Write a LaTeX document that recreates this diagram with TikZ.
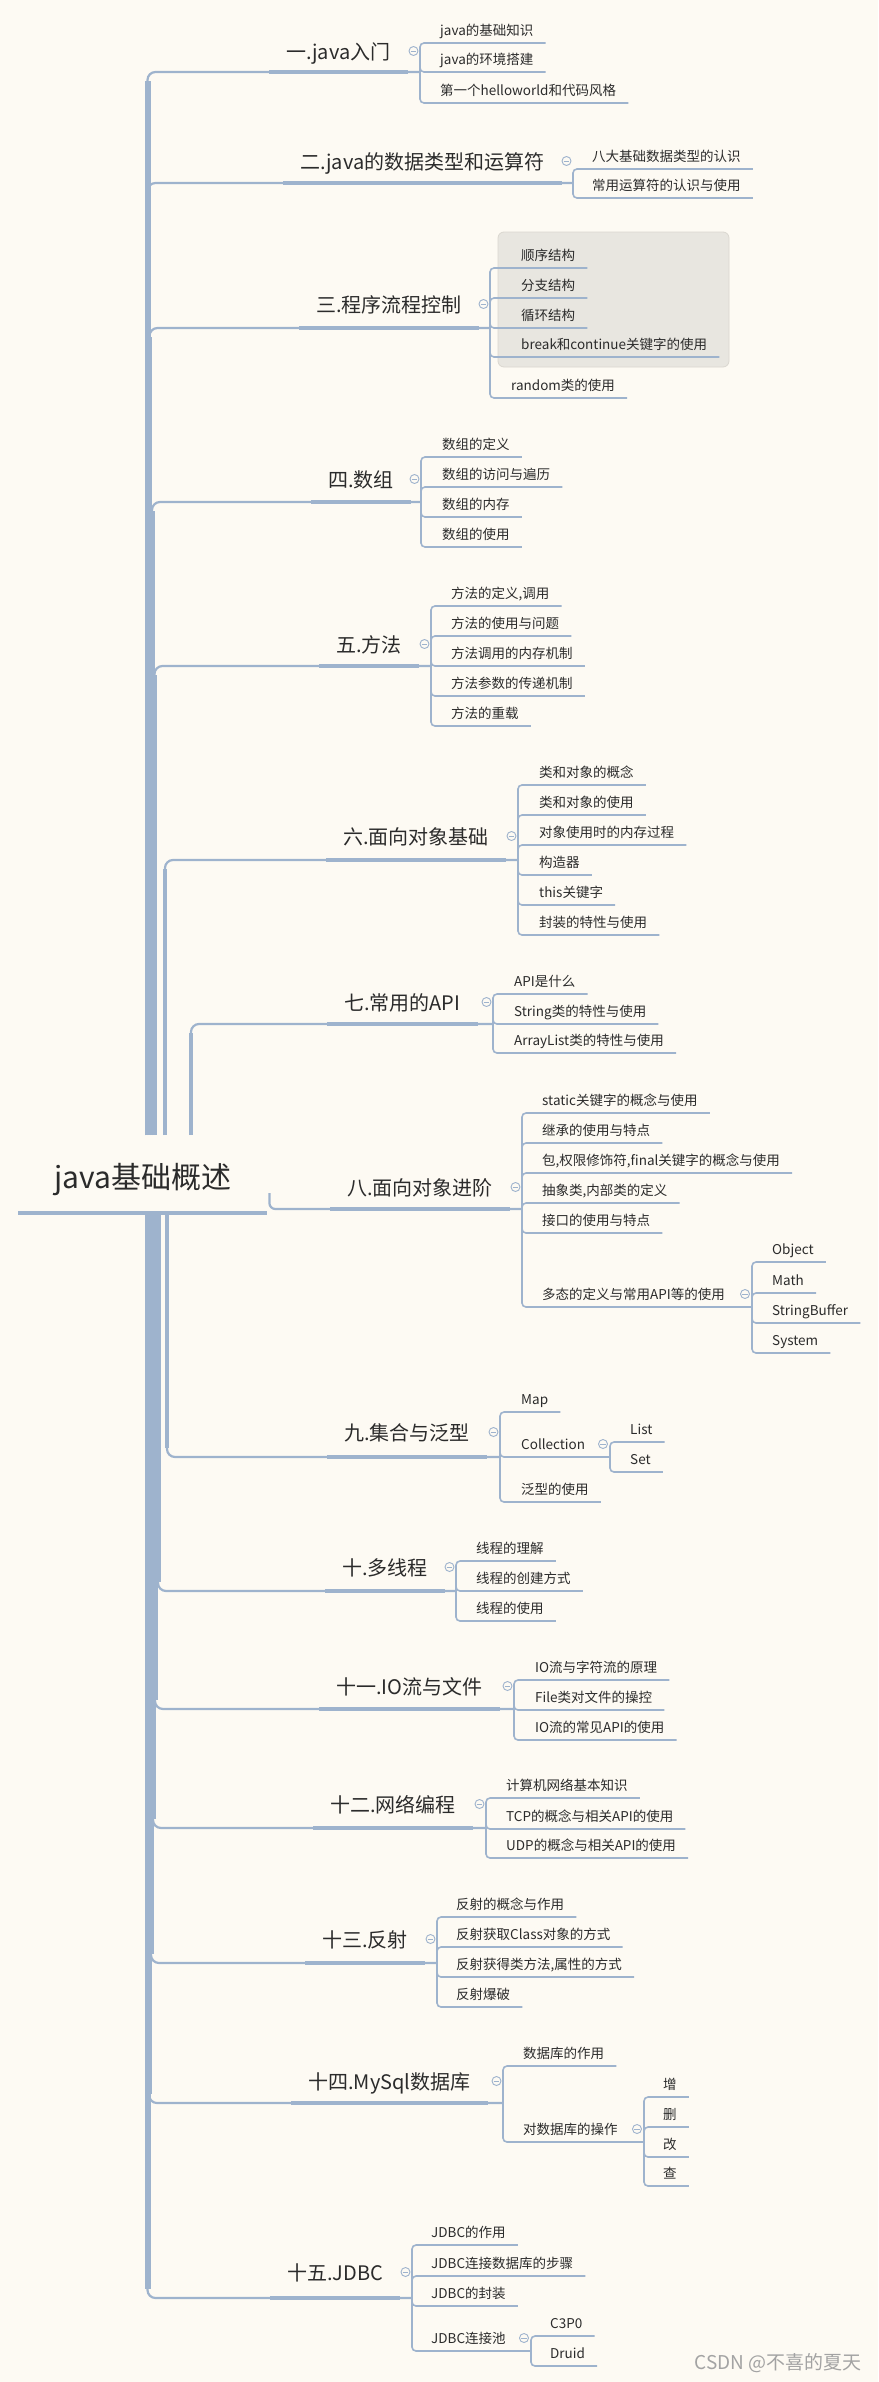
\documentclass[tikz,border=0pt]{standalone}
\usepackage{fontspec}
\setmainfont{Noto Sans CJK SC}
\usetikzlibrary{calc}
\definecolor{bgc}{HTML}{FDFAF3}
\definecolor{lc}{HTML}{9EB3CD}
\definecolor{txt}{HTML}{2B2B2B}
\definecolor{boxf}{HTML}{E8E6E0}
\definecolor{boxd}{HTML}{DAD7D0}
\definecolor{wm}{HTML}{A3A3A3}
\tikzset{
 topic/.style={inner sep=0pt, text=txt, font=\fontsize{20}{24}\selectfont},
 child/.style={inner sep=0pt, text=txt, font=\fontsize{13.5}{16}\selectfont},
 rootnode/.style={inner sep=0pt, text=txt, font=\fontsize{30}{36}\selectfont},
 branch/.style={draw=lc, line width=2.2pt, rounded corners=8pt},
 tline/.style={draw=lc, line width=3.5pt},
 clink/.style={draw=lc, line width=1.6pt, rounded corners=4pt},
 minus/.style={circle, draw=lc, fill=bgc, line width=0.9pt, minimum size=9pt, inner sep=0pt},
 minusline/.style={draw=lc, line width=0.9pt},
}
% topic: id, text, text x, centre y, underline y, bracket x
\newcommand\mmTopic[6]{%
 \node[topic, anchor=base west] (t#1) at (#3,#4+7.5) {#2};
 \coordinate (j#1) at (#6,#5);
 \draw[tline] ($(t#1.base west |- j#1)+(-17,0)$) -- ($(t#1.base east |- j#1)+(17,0)$);
 \node[minus] (m#1) at (#6-6.5,#4-1) {};
 \draw[minusline] ([xshift=2pt]m#1.west) -- ([xshift=-2pt]m#1.east);
}
% child: parent junction, name, text, text x, underline y
\newcommand\mmChild[5]{%
 \node[child, anchor=base west] (#2) at (#4,#5-7.5) {#3};
 \draw[clink] (#1) |- ($(#2.base east)+(12,7.5)$);
}
% child with sub-branches: parent junction, name, text, text x, underline y, sub bracket x
\newcommand\mmSub[6]{%
 \node[child, anchor=base west] (#2) at (#4,#5-7.5) {#3};
 \coordinate (j#2) at (#6,#5);
 \draw[clink] (#1) |- (j#2);
 \node[minus] (m#2) at (#6-7,#5-13) {};
 \draw[minusline] ([xshift=2pt]m#2.west) -- ([xshift=-2pt]m#2.east);
}
% trunk branches: id, x, width
\newcommand\mmUp[3]{%
 \draw[lc, line width=#3pt] (rtop -| #2,0) -- ($(j#1 -| #2,0)+(0,9)$);
 \draw[branch] ($(j#1 -| #2,0)+(0,13)$) |- (j#1);
}
\newcommand\mmDown[3]{%
 \draw[lc, line width=#3pt] (rbot -| #2,0) -- ($(j#1 -| #2,0)+(0,-9)$);
 \draw[branch] ($(j#1 -| #2,0)+(0,-13)$) |- (j#1);
}
\begin{document}
\begin{tikzpicture}[x=1pt,y=-1pt]
\fill[bgc] (0,0) rectangle (878,2382);
\useasboundingbox (0,0) rectangle (878,2382);
% grey box behind the first four children of topic 3
\filldraw[fill=boxf, draw=boxd, line width=0.8pt, rounded corners=6pt] (498,232) rectangle (729,367);

% root
\node[rootnode, anchor=base west] (root) at (54,1188) {java基础概述};
\coordinate (rtop) at (148,1135);
\coordinate (rbot) at (148,1213);

% topics
\mmTopic{1}{一.java入门}{286}{52}{72}{420}
\mmTopic{2}{二.java的数据类型和运算符}{300}{162}{183}{573}
\mmTopic{3}{三.程序流程控制}{316}{305}{328}{490}
\mmTopic{4}{四.数组}{328}{480}{502}{421}
\mmTopic{5}{五.方法}{336}{645}{666}{431}
\mmTopic{6}{六.面向对象基础}{343}{837}{860}{518}
\mmTopic{7}{七.常用的API}{344}{1003}{1024}{493}
\mmTopic{8}{八.面向对象进阶}{347}{1188}{1209}{522}
\mmTopic{9}{九.集合与泛型}{344}{1433}{1457}{500}
\mmTopic{10}{十.多线程}{342}{1568}{1591}{456}
\mmTopic{11}{十一.IO流与文件}{336}{1687}{1709}{514}
\mmTopic{12}{十二.网络编程}{330}{1805}{1828}{486}
\mmTopic{13}{十三.反射}{322}{1940}{1963}{437}
\mmTopic{14}{十四.MySql数据库}{308}{2082}{2103}{503}
\mmTopic{15}{十五.JDBC}{287}{2273}{2298}{412}

% trunk
\mmUp{1}{147.5}{6}
\mmUp{2}{147.5}{6}
\mmUp{3}{149.5}{5}
\mmUp{4}{152}{5}
\mmUp{5}{154.5}{5}
\mmUp{6}{165}{4}
\mmUp{7}{191}{3.5}
\draw[branch, rounded corners=6pt] ($(root.base east |- rbot)+(38,-20)$) |- (j8);
\mmDown{9}{167}{4}
\mmDown{10}{158}{5}
\mmDown{11}{155}{5}
\mmDown{12}{153}{5}
\mmDown{13}{151}{5}
\mmDown{14}{149}{5}
\mmDown{15}{147.5}{6}
\draw[lc, line width=4.5pt] ($(root.base west |- rbot)+(-36,0)$) -- ($(root.base east |- rbot)+(36,0)$);

% children
\mmChild{j1}{c1a}{java的基础知识}{440}{43}
\mmChild{j1}{c1b}{java的环境搭建}{440}{72}
\mmChild{j1}{c1c}{第一个helloworld和代码风格}{440}{103}

\mmChild{j2}{c2a}{八大基础数据类型的认识}{592}{169}
\mmChild{j2}{c2b}{常用运算符的认识与使用}{592}{198}

\mmChild{j3}{c3a}{顺序结构}{521}{268}
\mmChild{j3}{c3b}{分支结构}{521}{298}
\mmChild{j3}{c3c}{循环结构}{521}{328}
\mmChild{j3}{c3d}{break和continue关键字的使用}{521}{357}
\mmChild{j3}{c3e}{random类的使用}{511}{398}

\mmChild{j4}{c4a}{数组的定义}{442}{457}
\mmChild{j4}{c4b}{数组的访问与遍历}{442}{487}
\mmChild{j4}{c4c}{数组的内存}{442}{517}
\mmChild{j4}{c4d}{数组的使用}{442}{547}

\mmChild{j5}{c5a}{方法的定义,调用}{451}{606}
\mmChild{j5}{c5b}{方法的使用与问题}{451}{636}
\mmChild{j5}{c5c}{方法调用的内存机制}{451}{666}
\mmChild{j5}{c5d}{方法参数的传递机制}{451}{696}
\mmChild{j5}{c5e}{方法的重载}{451}{726}

\mmChild{j6}{c6a}{类和对象的概念}{539}{785}
\mmChild{j6}{c6b}{类和对象的使用}{539}{815}
\mmChild{j6}{c6c}{对象使用时的内存过程}{539}{845}
\mmChild{j6}{c6d}{构造器}{539}{875}
\mmChild{j6}{c6e}{this关键字}{539}{905}
\mmChild{j6}{c6f}{封装的特性与使用}{539}{935}

\mmChild{j7}{c7a}{API是什么}{514}{994}
\mmChild{j7}{c7b}{String类的特性与使用}{514}{1024}
\mmChild{j7}{c7c}{ArrayList类的特性与使用}{514}{1053}

\mmChild{j8}{c8a}{static关键字的概念与使用}{542}{1113}
\mmChild{j8}{c8b}{继承的使用与特点}{542}{1143}
\mmChild{j8}{c8c}{包,权限修饰符,final关键字的概念与使用}{542}{1173}
\mmChild{j8}{c8d}{抽象类,内部类的定义}{542}{1203}
\mmChild{j8}{c8e}{接口的使用与特点}{542}{1233}
\mmSub{j8}{c8f}{多态的定义与常用API等的使用}{542}{1307}{752}
\mmChild{jc8f}{c8fa}{Object}{772}{1262}
\mmChild{jc8f}{c8fb}{Math}{772}{1293}
\mmChild{jc8f}{c8fc}{StringBuffer}{772}{1323}
\mmChild{jc8f}{c8fd}{System}{772}{1353}

\mmChild{j9}{c9a}{Map}{521}{1412}
\mmSub{j9}{c9b}{Collection}{521}{1457}{610}
\mmChild{jc9b}{c9ba}{List}{630}{1442}
\mmChild{jc9b}{c9bb}{Set}{630}{1472}
\mmChild{j9}{c9c}{泛型的使用}{521}{1502}

\mmChild{j10}{c10a}{线程的理解}{476}{1561}
\mmChild{j10}{c10b}{线程的创建方式}{476}{1591}
\mmChild{j10}{c10c}{线程的使用}{476}{1621}

\mmChild{j11}{c11a}{IO流与字符流的原理}{535}{1680}
\mmChild{j11}{c11b}{File类对文件的操控}{535}{1710}
\mmChild{j11}{c11c}{IO流的常见API的使用}{535}{1740}

\mmChild{j12}{c12a}{计算机网络基本知识}{506}{1798}
\mmChild{j12}{c12b}{TCP的概念与相关API的使用}{506}{1829}
\mmChild{j12}{c12c}{UDP的概念与相关API的使用}{506}{1858}

\mmChild{j13}{c13a}{反射的概念与作用}{456}{1917}
\mmChild{j13}{c13b}{反射获取Class对象的方式}{456}{1947}
\mmChild{j13}{c13c}{反射获得类方法,属性的方式}{456}{1977}
\mmChild{j13}{c13d}{反射爆破}{456}{2007}

\mmChild{j14}{c14a}{数据库的作用}{523}{2066}
\mmSub{j14}{c14b}{对数据库的操作}{523}{2142}{644}
\mmChild{jc14b}{c14ba}{增}{663}{2097}
\mmChild{jc14b}{c14bb}{删}{663}{2127}
\mmChild{jc14b}{c14bc}{改}{663}{2157}
\mmChild{jc14b}{c14bd}{查}{663}{2186}

\mmChild{j15}{c15a}{JDBC的作用}{431}{2245}
\mmChild{j15}{c15b}{JDBC连接数据库的步骤}{431}{2276}
\mmChild{j15}{c15c}{JDBC的封装}{431}{2306}
\mmSub{j15}{c15d}{JDBC连接池}{431}{2351}{531}
\mmChild{jc15d}{c15da}{C3P0}{550}{2336}
\mmChild{jc15d}{c15db}{Druid}{550}{2366}

% watermark
\node[anchor=east, inner sep=0pt, text=wm, font=\fontsize{19}{22}\selectfont] (wmk) at (862,2363) {CSDN @不喜的夏天};
\end{tikzpicture}
\end{document}
